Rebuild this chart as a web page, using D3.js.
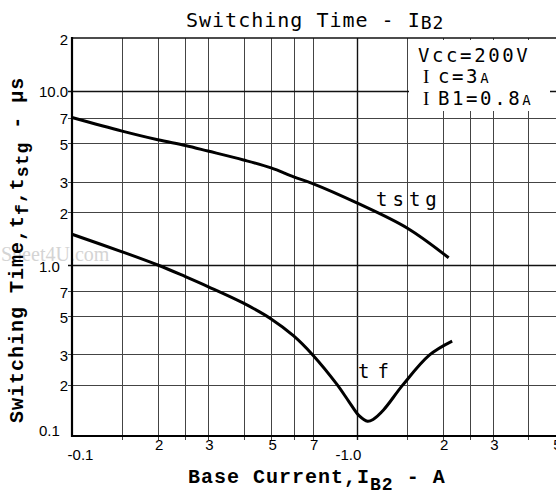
<!DOCTYPE html>
<html>
<head>
<meta charset="utf-8">
<script src="https://cdn.jsdelivr.net/npm/d3@7"></script>
<style>
  body { margin: 0; background: #fff; }
  svg { display: block; }
</style>
</head>
<body>
<div id="chart"></div>
<script>
// grid + tick positions (base current in A, time in us)
const xGrid = [0.15, 0.2, 0.25, 0.3, 0.4, 0.5, 0.6, 0.7, 1.0, 1.5, 2, 2.5, 3, 4];
const yGrid = [0.2, 0.3, 0.5, 0.7, 1.0, 2, 3, 5, 7, 10];
const xTickValues = [0.1, 0.2, 0.3, 0.5, 0.7, 1.0, 2, 3, 5];
const xTickLabels = ['-0.1', '2', '3', '5', '7', '-1.0', '2', '3', '5'];
const yTickValues = [0.1, 0.2, 0.3, 0.5, 0.7, 1.0, 2, 3, 5, 7, 10, 20];
const yTickLabels = ['0.1', '2', '3', '5', '7', '1.0', '2', '3', '5', '7', '10.0', '2'];

// storage time
const tstgCurrent = [0.1, 0.15, 0.2, 0.25, 0.3, 0.4, 0.5, 0.6, 0.7, 1.0, 1.5, 2.1];
const tstgTime = [7.0, 5.85, 5.22, 4.84, 4.5, 4.0, 3.6, 3.2, 2.93, 2.27, 1.63, 1.1];

// fall time
const tfCurrent = [0.1, 0.15, 0.2, 0.25, 0.3, 0.4, 0.5, 0.6, 0.7, 0.85, 0.94, 1.02, 1.09, 1.14, 1.24, 1.45, 1.8, 2.16];
const tfTime = [1.5, 1.19, 1.0, 0.855, 0.748, 0.598, 0.484, 0.385, 0.298, 0.201, 0.158, 0.131, 0.122, 0.125, 0.142, 0.199, 0.298, 0.359];

const W = 556, H = 493;

const svg = d3.select('#chart')
  .append('svg')
  .attr('width', W)
  .attr('height', H);

const x = d3.scaleLog().domain([0.1, 5]).range([72, 556]);
const y = d3.scaleLog().domain([0.1, 1, 20]).range([436, 265, 38]);

const px = v => Math.round(v) + 0.5;

// faint watermark of the scanned sheet
svg.append('text')
  .attr('x', 1)
  .attr('y', 261)
  .style('font-family', '"Liberation Serif", serif')
  .style('font-size', '20px')
  .style('fill', '#d4d4d4')
  .text('Sheet4U.com');

// grid
svg.append('g')
  .selectAll('line')
  .data(xGrid)
  .join('line')
  .attr('x1', d => px(x(d)))
  .attr('x2', d => px(x(d)))
  .attr('y1', y(20))
  .attr('y2', y(0.1) + 4)
  .attr('stroke', d => d === 1 ? '#111' : '#444')
  .attr('stroke-width', d => d === 1 ? 1.4 : 1);

svg.append('g')
  .selectAll('line')
  .data(yGrid)
  .join('line')
  .attr('x1', x(0.1) - 4)
  .attr('x2', x(5))
  .attr('y1', d => px(y(d)))
  .attr('y2', d => px(y(d)))
  .attr('stroke', d => (d === 1 || d === 10) ? '#111' : '#444')
  .attr('stroke-width', d => (d === 1 || d === 10) ? 1.6 : 1);

// frame
svg.append('line')
  .attr('x1', x(0.1)).attr('x2', x(5))
  .attr('y1', y(20)).attr('y2', y(20))
  .attr('stroke', '#111').attr('stroke-width', 1.5);
svg.append('line')
  .attr('x1', x(0.1)).attr('x2', x(0.1))
  .attr('y1', y(20) - 1).attr('y2', y(0.1) + 1)
  .attr('stroke', '#000').attr('stroke-width', 2.2);
svg.append('line')
  .attr('x1', x(0.1) - 1).attr('x2', x(5))
  .attr('y1', y(0.1)).attr('y2', y(0.1))
  .attr('stroke', '#000').attr('stroke-width', 2.2);

// tick labels
const yAxis = svg.append('g')
  .attr('transform', `translate(${x(0.1)},0)`)
  .call(d3.axisLeft(y).tickValues(yTickValues).tickSize(0).tickFormat((d, i) => yTickLabels[i]));
yAxis.select('.domain').remove();
yAxis.selectAll('.tick text')
  .style('font-family', '"Liberation Sans", Arial, sans-serif')
  .style('font-size', '15px')
  .style('fill', '#000')
  .attr('text-anchor', (d, i) => yTickLabels[i].length > 1 ? 'start' : 'end')
  .attr('x', (d, i) => yTickLabels[i].length > 1 ? -33 : -4)
  .attr('dy', d => d === 0.1 ? '-0.05em' : '0.4em');

const xAxis = svg.append('g')
  .attr('transform', `translate(0,${y(0.1)})`)
  .call(d3.axisBottom(x).tickValues(xTickValues).tickSize(0).tickFormat((d, i) => xTickLabels[i]));
xAxis.select('.domain').remove();
xAxis.selectAll('.tick text')
  .style('font-family', '"Liberation Sans", Arial, sans-serif')
  .style('font-size', '15px')
  .style('fill', '#000')
  .attr('dx', (d, i) => xTickLabels[i] === '-0.1' ? 8 : (xTickLabels[i] === '-1.0' ? -9 : 1))
  .attr('y', (d, i) => xTickLabels[i].startsWith('-') ? 13 : 3);

// curves
const line = d3.line()
  .x(d => x(d[0]))
  .y(d => y(d[1]))
  .curve(d3.curveCatmullRom.alpha(0.5));

svg.append('path')
  .datum(d3.zip(tstgCurrent, tstgTime))
  .attr('d', line)
  .attr('fill', 'none')
  .attr('stroke', '#000')
  .attr('stroke-width', 3);

svg.append('path')
  .datum(d3.zip(tfCurrent, tfTime))
  .attr('d', line)
  .attr('fill', 'none')
  .attr('stroke', '#000')
  .attr('stroke-width', 3);

// curve labels
const monoLight = '"DejaVu Sans Mono", monospace';
svg.append('text')
  .attr('x', 376).attr('y', 206)
  .style('font-family', monoLight)
  .style('font-size', '19px')
  .style('letter-spacing', '5px')
  .text('tstg');
svg.append('text')
  .attr('x', 358).attr('y', 378)
  .style('font-family', monoLight)
  .style('font-size', '19px')
  .style('letter-spacing', '8px')
  .text('tf');

// conditions box
svg.append('rect')
  .attr('x', 409).attr('y', 40)
  .attr('width', 141).attr('height', 71)
  .attr('fill', '#fff');

const cond = svg.append('g')
  .style('font-family', monoLight)
  .style('font-size', '19px')
  .style('letter-spacing', '2.6px');

const c1 = cond.append('text').attr('x', 418).attr('y', 62);
c1.append('tspan').text('Vcc=200V');

const c2 = cond.append('text').attr('x', 423).attr('y', 83);
c2.append('tspan').style('font-family', '"Liberation Serif", serif').text('I');
c2.append('tspan').attr('x', 438).text('c=3');
c2.append('tspan').style('font-size', '14px').text('A');

const c3 = cond.append('text').attr('x', 423).attr('y', 105);
c3.append('tspan').style('font-family', '"Liberation Serif", serif').text('I');
c3.append('tspan').attr('x', 438).text('B1=0.8');
c3.append('tspan').style('font-size', '14px').text('A');

// title
const title = svg.append('text')
  .attr('x', 186).attr('y', 27)
  .style('font-family', monoLight)
  .style('font-size', '20px')
  .style('letter-spacing', '1px');
title.append('tspan').text('Switching Time - I');
title.append('tspan').attr('dy', 2).style('font-size', '18px').text('B2');

// axis titles
const mono = '"Liberation Mono", "Courier New", monospace';
const xTitle = svg.append('text')
  .attr('x', 188).attr('y', 483)
  .style('font-family', mono)
  .style('font-weight', 'bold')
  .style('font-size', '20px')
  .style('letter-spacing', '1px');
xTitle.append('tspan').text('Base Current,I');
xTitle.append('tspan').attr('dy', 7).style('font-size', '18px').text('B2');
xTitle.append('tspan').attr('dy', -7).text(' - A');

const yTitle = svg.append('text')
  .attr('transform', 'translate(23,423) rotate(-90)')
  .attr('x', 0).attr('y', 0)
  .style('font-family', mono)
  .style('font-weight', 'bold')
  .style('font-size', '20px')
  .style('letter-spacing', '1px');
yTitle.append('tspan').text('Switching Time,t');
yTitle.append('tspan').attr('dy', 5).style('font-size', '18px').text('f');
yTitle.append('tspan').attr('dy', -5).text(',t');
yTitle.append('tspan').attr('dy', 5).style('font-size', '18px').text('stg');
yTitle.append('tspan').attr('dy', -5).text(' - μs');
</script>
</body>
</html>
